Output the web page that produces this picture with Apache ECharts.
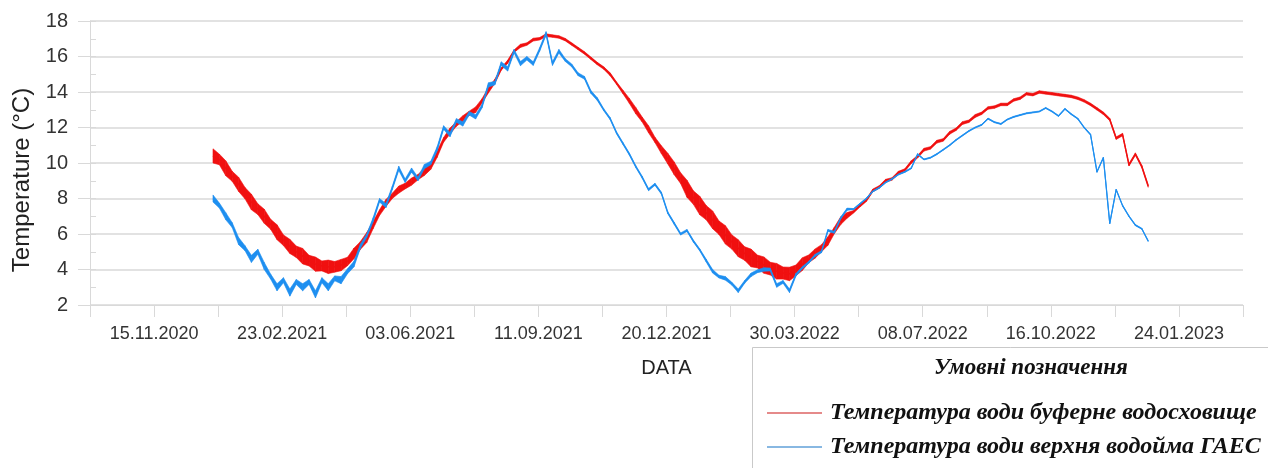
<!DOCTYPE html>
<html>
<head>
<meta charset="utf-8">
<script src="https://cdn.jsdelivr.net/npm/echarts@6/dist/echarts.min.js"></script>
<style>
html,body{margin:0;padding:0;background:#fff;}
#chart{width:1268px;height:468px;}
</style>
</head>
<body>
<div id="chart"></div>
<script>
// x values are days counted from 26.09.2020 (left end of the axis)
const xTickLabels = ['15.11.2020','23.02.2021','03.06.2021','11.09.2021','20.12.2021','30.03.2022','08.07.2022','16.10.2022','24.01.2023'];
const yTicks = [2,4,6,8,10,12,14,16,18];
const firstSampleDay = 96;   // 31.12.2020
const sampleStepDays = 5;

const redName = 'Температура води буферне водосховище';
const blueName = 'Температура води верхня водойма ГАЕС';

// buffer reservoir: centre of the measured trace and half-width of its daily noise band
const redTemp = [
10.4,10.2,9.7,9.25,8.8,8.3,7.8,7.4,7.0,6.55,
6.1,5.65,5.3,5.0,4.75,4.5,4.3,4.2,4.15,4.15,
4.25,4.45,4.9,5.35,5.8,6.5,7.2,7.75,8.15,8.5,
8.7,8.95,9.2,9.5,9.8,10.5,11.3,11.8,12.2,12.5,
12.8,13.0,13.5,14.1,14.6,15.3,15.7,16.3,16.6,16.7,
16.95,17.0,17.2,17.15,17.1,16.95,16.7,16.45,16.2,15.9,
15.6,15.35,15.0,14.5,14.0,13.5,12.95,12.45,11.9,11.3,
10.75,10.25,9.7,9.15,8.55,8.05,7.6,7.2,6.8,6.35,
5.95,5.55,5.2,4.9,4.65,4.45,4.25,4.05,3.9,3.8,
3.75,3.95,4.3,4.6,4.9,5.2,5.6,6.2,6.75,7.05,
7.25,7.6,7.9,8.45,8.65,9.0,9.1,9.45,9.6,10.05,
10.35,10.75,10.85,11.2,11.3,11.7,11.9,12.25,12.35,12.65,
12.8,13.1,13.15,13.3,13.3,13.55,13.65,13.9,13.85,14.0,
13.95,13.9,13.85,13.8,13.75,13.65,13.5,13.3,13.05,12.8,
12.45,11.4,11.6,9.9,10.5,9.8,8.7
];
const redNoise = [
0.4,0.3,0.42,0.28,0.4,0.32,0.44,0.3,0.4,0.28,
0.42,0.3,0.4,0.32,0.44,0.3,0.4,0.28,0.38,0.3,
0.32,0.24,0.3,0.22,0.28,0.2,0.16,0.2,0.15,0.2,
0.16,0.2,0.15,0.2,0.16,0.18,0.13,0.17,0.13,0.16,
0.12,0.16,0.12,0.15,0.12,0.07,0.09,0.07,0.09,0.07,
0.08,0.07,0.08,0.07,0.07,0.07,0.07,0.07,0.07,0.07,
0.07,0.07,0.08,0.07,0.1,0.14,0.18,0.14,0.2,0.15,
0.22,0.3,0.36,0.3,0.48,0.38,0.52,0.4,0.5,0.38,
0.52,0.4,0.48,0.38,0.5,0.36,0.46,0.36,0.44,0.34,
0.38,0.3,0.36,0.22,0.26,0.2,0.24,0.18,0.22,0.16,
0.07,0.08,0.07,0.08,0.07,0.08,0.07,0.08,0.07,0.08,
0.07,0.08,0.07,0.08,0.07,0.08,0.07,0.08,0.07,0.08,
0.07,0.07,0.07,0.07,0.07,0.07,0.07,0.07,0.07,0.07,
0.07,0.07,0.07,0.07,0.07,0.07,0.07,0.07,0.07,0.07,
0.07,0.07,0.07,0.07,0.07,0.07,0.07
];

// upper pond of the pumped-storage plant
const blueTemp = [
8.0,7.6,7.0,6.5,5.6,5.2,4.6,5.0,4.2,3.6,
3.0,3.4,2.7,3.3,3.0,3.3,2.6,3.4,3.0,3.5,
3.4,3.9,4.3,5.3,5.9,6.8,7.9,7.6,8.6,9.7,
9.0,9.6,9.1,9.8,10.0,10.8,12.0,11.6,12.4,12.2,
12.8,12.6,13.2,14.4,14.5,15.6,15.3,16.3,15.6,15.9,
15.6,16.4,17.3,15.6,16.3,15.8,15.5,15.0,14.8,14.0,
13.6,13.0,12.5,11.7,11.1,10.5,9.8,9.2,8.5,8.8,
8.3,7.2,6.6,6.0,6.2,5.6,5.1,4.5,3.9,3.6,
3.5,3.2,2.8,3.3,3.7,3.9,4.0,4.0,3.1,3.3,
2.8,3.7,4.1,4.4,4.8,5.0,6.2,6.1,6.9,7.4,
7.4,7.7,8.0,8.4,8.6,8.9,9.1,9.35,9.5,9.7,
10.5,10.2,10.3,10.5,10.75,11.0,11.3,11.55,11.8,12.0,
12.15,12.5,12.3,12.2,12.45,12.6,12.7,12.8,12.85,12.9,
13.1,12.9,12.65,13.05,12.75,12.5,12.0,11.6,9.5,10.3,
6.6,8.5,7.6,7.0,6.5,6.3,5.6
];
const blueNoise = [
0.2,0.14,0.2,0.14,0.2,0.14,0.2,0.14,0.2,0.14,
0.2,0.14,0.2,0.14,0.2,0.14,0.2,0.14,0.2,0.14,
0.2,0.14,0.16,0.12,0.1,0.12,0.1,0.12,0.1,0.12,
0.1,0.12,0.1,0.12,0.1,0.12,0.1,0.12,0.1,0.12,
0.1,0.12,0.1,0.12,0.1,0.1,0.12,0.1,0.12,0.1,
0.1,0.1,0.1,0.1,0.1,0.08,0.08,0.08,0.08,0.08,
0.08,0.06,0.06,0.06,0.06,0.06,0.06,0.06,0.06,0.06,
0.06,0.06,0.06,0.06,0.06,0.06,0.06,0.08,0.1,0.08,
0.1,0.08,0.1,0.08,0.1,0.08,0.1,0.08,0.1,0.08,
0.1,0.08,0.06,0.06,0.06,0.06,0.06,0.06,0.06,0.06,
0.03,0.03,0.03,0.03,0.03,0.03,0.03,0.03,0.03,0.03,
0.03,0.03,0.03,0.03,0.03,0.03,0.03,0.03,0.03,0.03,
0.03,0.03,0.03,0.03,0.03,0.03,0.03,0.03,0.03,0.03,
0.03,0.03,0.03,0.03,0.03,0.03,0.03,0.03,0.03,0.03,
0.03,0.03,0.03,0.03,0.03,0.03,0.03
];

function dayOf(i){ return firstSampleDay + i*sampleStepDays; }
function toPoints(values){ return values.map((v,i)=>[dayOf(i), v]); }
// noise band drawn as quads between consecutive samples
function bandSeries(id, values, noise, color, z){
  const data = [];
  for (let i=0;i<values.length-1;i++){
    data.push([dayOf(i), values[i]-noise[i], values[i]+noise[i],
               dayOf(i+1), values[i+1]-noise[i+1], values[i+1]+noise[i+1]]);
  }
  return {
    name:id+'-band', type:'custom', silent:true, z:z, clip:true,
    data:data, encode:{x:[0,3], y:[1,2,4,5]},
    renderItem:function(params, api){
      const a=api.coord([api.value(0),api.value(1)]);
      const b=api.coord([api.value(3),api.value(4)]);
      const c=api.coord([api.value(3),api.value(5)]);
      const d=api.coord([api.value(0),api.value(2)]);
      return {type:'polygon', shape:{points:[a,b,c,d]},
              style:{fill:color, stroke:color, lineWidth:0.6}};
    }
  };
}

const redColor = '#f01010';
const blueColor = '#1e8ff0';
const chart = echarts.init(document.getElementById('chart'), null, {renderer:'canvas'});
const gridColor = '#d9d9d9';
chart.setOption({
  animation:false,
  backgroundColor:'#ffffff',
  grid:{left:90,right:25,top:21,bottom:163,containLabel:false},
  xAxis:{
    type:'value', min:0, max:900, interval:50,
    name:'DATA', nameLocation:'middle', nameGap:53,
    nameTextStyle:{fontFamily:'Liberation Sans',fontSize:20,color:'#222'},
    axisLine:{show:true,lineStyle:{color:gridColor,width:1}},
    axisTick:{show:true,length:12,lineStyle:{color:gridColor}},
    splitLine:{show:false},
    axisLabel:{
      margin:20,fontFamily:'Liberation Sans',fontSize:18,color:'#333',
      formatter:function(v){
        const k=(v-50)/100;
        return (Number.isInteger(k)&&k>=0&&k<xTickLabels.length)?xTickLabels[k]:'';
      }
    }
  },
  yAxis:[{
    type:'value', min:yTicks[0], max:yTicks[yTicks.length-1], interval:2,
    axisLine:{show:true,lineStyle:{color:gridColor}},
    axisTick:{show:true,length:12,lineStyle:{color:gridColor}},
    splitLine:{show:true,lineStyle:{color:gridColor,width:1.5}},
    axisLabel:{margin:22,fontFamily:'Liberation Sans',fontSize:20,color:'#333'}
  },{
    type:'value', min:yTicks[0], max:yTicks[yTicks.length-1], interval:1, position:'left',
    axisLine:{show:false},
    axisTick:{show:true,inside:true,length:6,lineStyle:{color:gridColor}},
    axisLabel:{show:false}, splitLine:{show:false}
  }],
  legend:{
    orient:'vertical', left:762, top:396, itemWidth:55, itemHeight:2, itemGap:10,
    icon:'rect', selectedMode:false,
    textStyle:{fontFamily:'Liberation Serif',fontStyle:'italic',fontWeight:'bold',fontSize:24,color:'#111',padding:[0,0,0,3]},
    data:[
      {name:redName,itemStyle:{color:'#e58a8a'}},
      {name:blueName,itemStyle:{color:'#88b8e2'}}
    ]
  },
  graphic:[
    {type:'text',z:5,rotation:Math.PI/2,x:22,y:180,style:{x:0,y:0,text:'Temperature (°C)',textAlign:'center',textVerticalAlign:'middle',
      font:'24px "Liberation Sans"',fill:'#222'}},
    {type:'rect',z:0,shape:{x:752.5,y:347.5,width:540,height:140},style:{fill:'#fff',stroke:'#c9c9c9',lineWidth:1}},
    {type:'text',z:1,style:{x:1031,y:368,text:'Умовні позначення',textAlign:'center',textVerticalAlign:'middle',
      font:'italic bold 23px "Liberation Serif"',fill:'#111'}}
  ],
  series:[
    bandSeries('red', redTemp, redNoise, redColor, 2),
    {name:redName,type:'line',data:toPoints(redTemp),symbol:'none',showSymbol:false,
     lineStyle:{color:redColor,width:1.4},itemStyle:{color:redColor},z:2},
    bandSeries('blue', blueTemp, blueNoise, blueColor, 3),
    {name:blueName,type:'line',data:toPoints(blueTemp),symbol:'none',showSymbol:false,
     lineStyle:{color:blueColor,width:1.2},itemStyle:{color:blueColor},z:3}
  ]
});
</script>
</body>
</html>
